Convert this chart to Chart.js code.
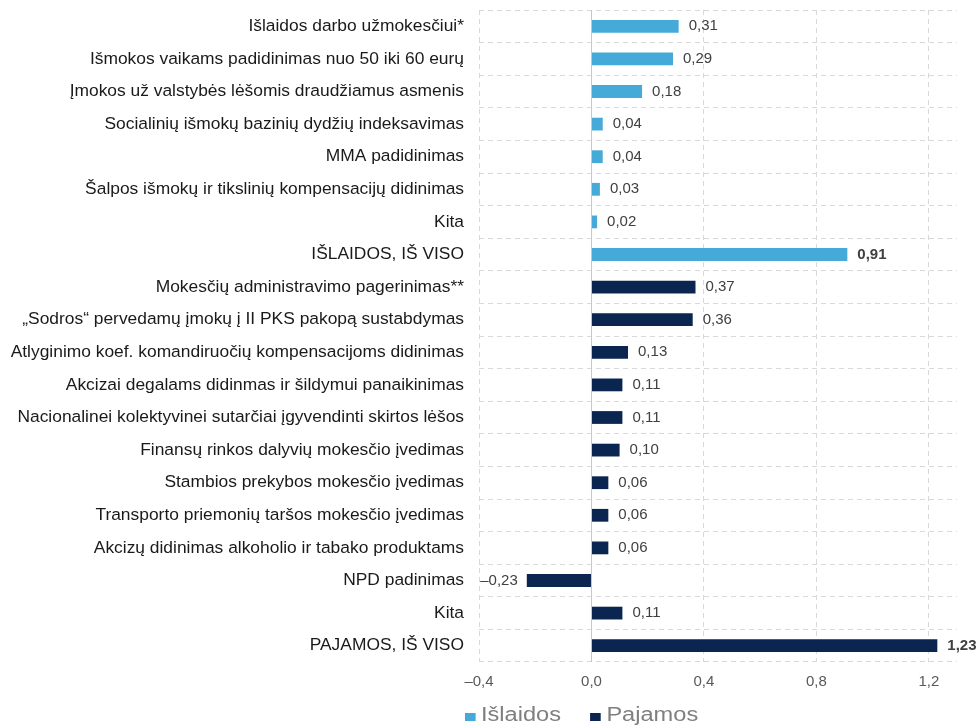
<!DOCTYPE html>
<html>
<head>
<meta charset="utf-8">
<script src="https://cdn.jsdelivr.net/npm/chart.js@4.4.1/dist/chart.umd.min.js"></script>
<style>
    body { margin: 0; background: #fff; }
    #wrap { position: relative; width: 979px; height: 726px; }
    #budgetChart { position: absolute; left: 0; top: 0; }
    #legend { position: absolute; left: 465px; top: 704px; font-family: "Liberation Sans", Arial, sans-serif; font-size: 20px; line-height: 20px; color: #7f7f7f; display: flex; align-items: center; white-space: nowrap; transform: scaleX(1.18); transform-origin: left top; }
    #legend span.box { display: inline-block; width: 8.5px; height: 8px; margin-right: 5px; position: relative; top: 3px; }
    #legend span.item { display: flex; align-items: center; margin-right: 25px; }
</style>
</head>
<body>
<div id="wrap">
    <canvas id="budgetChart" width="979" height="711"></canvas>
    <div id="legend"></div>
</div>
<script>
const categories = [
    'Išlaidos darbo užmokesčiui*',
    'Išmokos vaikams padidinimas nuo 50 iki 60 eurų',
    'Įmokos už valstybės lėšomis draudžiamus asmenis',
    'Socialinių išmokų bazinių dydžių indeksavimas',
    'MMA padidinimas',
    'Šalpos išmokų ir tikslinių kompensacijų didinimas',
    'Kita',
    'IŠLAIDOS, IŠ VISO',
    'Mokesčių administravimo pagerinimas**',
    '„Sodros“ pervedamų įmokų į II PKS pakopą sustabdymas',
    'Atlyginimo koef. komandiruočių kompensacijoms didinimas',
    'Akcizai degalams didinmas ir šildymui panaikinimas',
    'Nacionalinei kolektyvinei sutarčiai įgyvendinti skirtos lėšos',
    'Finansų rinkos dalyvių mokesčio įvedimas',
    'Stambios prekybos mokesčio įvedimas',
    'Transporto priemonių taršos mokesčio įvedimas',
    'Akcizų didinimas alkoholio ir tabako produktams',
    'NPD padinimas',
    'Kita',
    'PAJAMOS, IŠ VISO'
];

const islaidos = [0.31, 0.29, 0.18, 0.04, 0.04, 0.03, 0.02, 0.91,
    null, null, null, null, null, null, null, null, null, null, null, null];
const pajamos = [null, null, null, null, null, null, null, null,
    0.37, 0.36, 0.13, 0.11, 0.11, 0.10, 0.06, 0.06, 0.06, -0.23, 0.11, 1.23];

const xTicks = [-0.4, 0, 0.4, 0.8, 1.2];
const seriesNames = ['Išlaidos', 'Pajamos'];
const colors = ['#46aad9', '#0a2550'];

function fmt(v, d) {
    return v.toFixed(d).replace('.', ',').replace('-', '\u2013');
}

// value labels at the bar ends
const valueLabels = {
    id: 'valueLabels',
    afterDatasetsDraw(chart) {
        const ctx = chart.ctx;
        ctx.save();
        ctx.fillStyle = '#404040';
        ctx.textBaseline = 'middle';
        chart.data.datasets.forEach((ds, di) => {
            chart.getDatasetMeta(di).data.forEach((bar, i) => {
                const v = ds.data[i];
                if (v === null) return;
                const bold = categories[i].indexOf('IŠ VISO') >= 0;
                ctx.font = (bold ? 'bold ' : '') + '15px "Liberation Sans", Arial, sans-serif';
                if (v < 0) {
                    ctx.textAlign = 'right';
                    ctx.fillText(fmt(v, 2), bar.x - 9, bar.y);
                } else {
                    ctx.textAlign = 'left';
                    ctx.fillText(fmt(v, 2), bar.x + 10, bar.y);
                }
            });
        });
        ctx.restore();
    }
};

// solid line at zero
const zeroLine = {
    id: 'zeroLine',
    beforeDatasetsDraw(chart) {
        const x = Math.round(chart.scales.x.getPixelForValue(0)) + 0.5;
        const a = chart.chartArea;
        const ctx = chart.ctx;
        ctx.save();
        ctx.strokeStyle = '#c8c8c8';
        ctx.lineWidth = 1;
        ctx.beginPath();
        ctx.moveTo(x, a.top);
        ctx.lineTo(x, a.bottom);
        ctx.stroke();
        ctx.restore();
    }
};

const ctx = document.getElementById('budgetChart').getContext('2d');
const budgetChart = new Chart(ctx, {
    type: 'bar',
    data: {
        labels: categories,
        datasets: [{
            label: seriesNames[0],
            data: islaidos,
            backgroundColor: colors[0]
        }, {
            label: seriesNames[1],
            data: pajamos,
            backgroundColor: colors[1]
        }]
    },
    options: {
        responsive: false,
        animation: false,
        indexAxis: 'y',
        grouped: false,
        categoryPercentage: 0.8,
        barPercentage: 0.49,
        layout: {
            padding: { top: 10, right: 22, bottom: 9, left: 0 }
        },
        scales: {
            x: {
                min: -0.4,
                max: 1.3,
                afterBuildTicks: function (scale) {
                    scale.ticks = xTicks.map(v => ({ value: v }));
                },
                afterFit: function (scale) {
                    scale.paddingLeft = 0;
                    scale.paddingRight = 0;
                },
                ticks: {
                    padding: 11,
                    color: '#595959',
                    font: { family: '"Liberation Sans", Arial, sans-serif', size: 15 },
                    callback: v => fmt(v, 1)
                },
                grid: { color: '#d9d9d9', drawTicks: false },
                border: { display: false, dash: [5, 4] }
            },
            y: {
                afterFit: function (scale) {
                    scale.width = 479;
                    scale.paddingTop = 0;
                    scale.paddingBottom = 0;
                },
                ticks: {
                    padding: 15,
                    color: '#1a1a1a',
                    autoSkip: false,
                    font: { family: '"Liberation Sans", Arial, sans-serif', size: 17.4 }
                },
                grid: { color: '#d9d9d9', drawTicks: false },
                border: { display: false, dash: [5, 4] }
            }
        },
        plugins: {
            legend: { display: false },
            tooltip: { enabled: false }
        }
    },
    plugins: [zeroLine, valueLabels]
});

// legend below the chart
const legend = document.getElementById('legend');
seriesNames.forEach((name, i) => {
    const item = document.createElement('span');
    item.className = 'item';
    item.innerHTML = '<span class="box" style="background:' + colors[i] + '"></span>' + name;
    legend.appendChild(item);
});
</script>
</body>
</html>
